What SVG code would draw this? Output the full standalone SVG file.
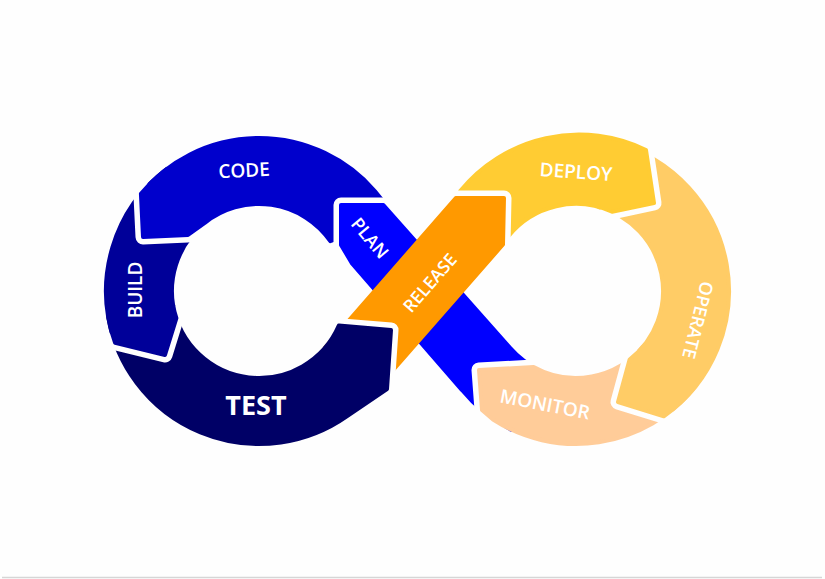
<svg xmlns="http://www.w3.org/2000/svg" width="825" height="579" viewBox="0 0 825 579">
<style>
.gap{fill:none;stroke:#fefefe;stroke-width:15;stroke-linejoin:round;stroke-linecap:round}
.seg{stroke-width:4;stroke-linejoin:round}
.lbl{font-family:"Open Sans","Noto Sans","Liberation Sans",sans-serif;fill:#ffffff;text-anchor:middle;font-weight:600}
.big{font-weight:700}
</style>
<defs>
<mask id="codeMask" maskUnits="userSpaceOnUse" x="0" y="0" width="825" height="579">
<rect x="0" y="0" width="825" height="579" fill="#fff"/>
<path d="M341,205 L383.4,205 L510.3,348.1 A87 87 0 0 0 539.2,369.8 L511.3,429.7 A153 153 0 0 1 462,390.1 L352,263.4 L341,245 Z" fill="#000"/>
<polyline points="390,205 341,205 341,245 352,263.4 354.5,267.6" fill="none" stroke="#000" stroke-width="15" stroke-linejoin="round" stroke-linecap="round"/>
</mask>
</defs>
<rect x="0" y="0" width="825" height="579" fill="#fefefe"/>
<line x1="2" y1="577.5" x2="822" y2="577.5" stroke="#d6d6d6" stroke-width="1.5"/>

<g id="plan">
<polyline class="gap" points="390,205 341,205 341,245 352,263.4 354.5,267.6"/>
<path class="seg" d="M341,205 L383.4,205 L510.3,348.1 A87 87 0 0 0 539.2,369.8 L511.3,429.7 A153 153 0 0 1 462,390.1 L352,263.4 L341,245 Z" fill="#0000ff" stroke="#0000ff"/>
<text class="lbl" font-size="18" transform="translate(370,238) rotate(50)" y="6.5">PLAN</text>
</g>

<g id="monitor">
<polyline class="gap" points="498,424 482,410 479,370 533.6,367 539,366.7"/>
<path class="seg" d="M693.2,389.3 A153 153 0 0 1 493,419.6 L482,410 L479,370 L533.6,367 A87 87 0 0 0 642.6,346.9 Z" fill="#ffcc99" stroke="#ffcc99"/>
<text class="lbl" font-size="19" transform="translate(545,404) rotate(11)" y="7">MONITOR</text>
</g>

<g id="operate">
<polyline class="gap" points="670,418.2 618,402 629.6,359.6 631,354.5"/>
<path class="seg" d="M615.6,143.2 A153 153 0 0 1 663.8,416.3 L618,402 L629.6,359.6 A87 87 0 0 0 598.5,207 Z" fill="#ffcc66" stroke="#ffcc66"/>
<text class="lbl" font-size="18" transform="translate(698,320) rotate(104)" y="6.5">OPERATE</text>
</g>

<g id="deploy">
<polyline class="gap" points="607,212.9 612.1,211.8 654,203 646,150 645,143"/>
<path class="seg" d="M508.4,236.2 A87 87 0 0 1 612.1,211.8 L654,203 L646,150 A153 153 0 0 0 460.2,191 L490,235 Z" fill="#ffcc33" stroke="#ffcc33"/>
<text class="lbl" font-size="19" transform="translate(576,171.5) rotate(4)" y="7">DEPLOY</text>
</g>

<g id="release">
<polyline class="gap" points="449,198 504,198 503,244.5"/>
<path class="seg" d="M325,347.8 L455.8,198 L504,198 L503,244.5 L374.8,391 Z" fill="#ff9900" stroke="#ff9900"/>
<text class="lbl" font-size="17.5" transform="translate(430,283) rotate(-49)" y="6">RELEASE</text>
</g>

<g id="test">
<polyline class="gap" points="333,325.1 338.8,325.6 391,330 387,389 386.4,394"/>
<path class="seg" d="M108.3,317.6 A153 153 0 0 0 346.8,416.3 L387,389 L391,330 L338.8,325.6 A87 87 0 0 1 173.3,306.1 Z" fill="#000066" stroke="#000066"/>
<text class="lbl big" font-size="27" x="256" y="415">TEST</text>
</g>

<g id="build">
<polyline class="gap" points="109,341.3 115.1,342.8 165,355 176.4,318.2 178,313"/>
<path class="seg" d="M166.9,168.8 A153 153 0 0 0 115.1,342.8 L165,355 L176.4,318.2 A87 87 0 0 1 206.6,221.5 Z" fill="#000099" stroke="#000099"/>
<text class="lbl" font-size="19" transform="translate(142,290) rotate(-90)">BUILD</text>
</g>

<g id="code">
<polyline class="gap" points="140.5,186 140.9,193.7 143,237 188,235 204.8,222.9 210,219"/>
<path class="seg" mask="url(#codeMask)" d="M140.9,193.7 A153 153 0 0 1 374.8,191 L387,206 L355,232 L330.3,241.1 A87 87 0 0 0 204.8,222.9 L188,235 L143,237 Z" fill="#0000cc" stroke="#0000cc"/>
<text class="lbl" font-size="19" transform="translate(244,170) rotate(-3)" y="7">CODE</text>
</g>
</svg>
